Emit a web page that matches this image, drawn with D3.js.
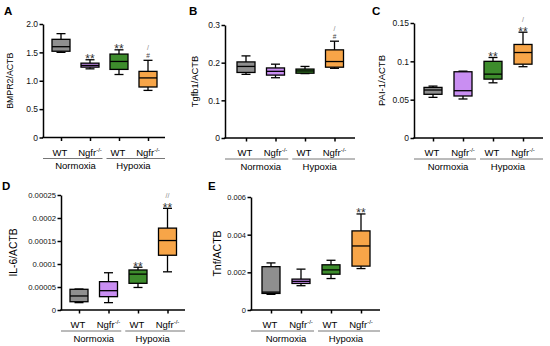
<!DOCTYPE html>
<html>
<head>
<meta charset="utf-8">
<script src="https://cdn.jsdelivr.net/npm/d3@7"></script>
<style>
  body { margin: 0; background: #fff; }
  svg { font-family: "Liberation Sans", Arial, sans-serif; }
</style>
</head>
<body>
<svg class="chart"></svg>
<script>
// genotype / condition labels
var genotypes = ["WT", "Ngfr", "WT", "Ngfr"];
var conditions = ["Normoxia", "Hypoxia"];
var boxColors = ["#8f8f8f", "#c98ef2", "#3d8c2c", "#f7a548"];

// box stats: [min, q1, median, q3, max]
var bmpr2 = [[1.50, 1.52, 1.60, 1.73, 1.83], [1.21, 1.24, 1.27, 1.31, 1.37], [1.11, 1.20, 1.34, 1.47, 1.545], [0.83, 0.89, 1.05, 1.165, 1.36]];
var tgfb1 = [[0.169, 0.174, 0.190, 0.202, 0.218], [0.160, 0.167, 0.177, 0.186, 0.196], [0.171, 0.172, 0.178, 0.183, 0.190], [0.185, 0.188, 0.203, 0.234, 0.257]];
var pai1 = [[0.053, 0.057, 0.0626, 0.066, 0.0677], [0.0509, 0.0548, 0.0617, 0.0864, 0.0872], [0.072, 0.0768, 0.0833, 0.100, 0.105], [0.093, 0.0963, 0.1115, 0.122, 0.138]];
var il6 = [[0.000016, 0.000018, 0.0000305, 0.000045, 0.0000456], [0.000016, 0.000029, 0.000042, 0.0000616, 0.000081], [0.000049, 0.000058, 0.000078, 0.000087, 0.000093], [0.000083, 0.000119, 0.000151, 0.000178, 0.000221]];
var tnf = [[0.00083, 0.00088, 0.00095, 0.0023, 0.0025], [0.00129, 0.00141, 0.00152, 0.00164, 0.00217], [0.00167, 0.0019, 0.00213, 0.0024, 0.00264], [0.0022, 0.00233, 0.0034, 0.0042, 0.0051]];

// significance marks (lower / upper line)
var bmpr2Marks = [["", ""], ["**", ""], ["**", ""], ["#", "/"]];
var tgfb1Marks = [["", ""], ["", ""], ["", ""], ["#", "/"]];
var pai1Marks = [["", ""], ["", ""], ["**", ""], ["**", "/"]];
var il6Marks = [["", ""], ["", ""], ["**", ""], ["**", "//"]];
var tnfMarks = [["", ""], ["", ""], ["", ""], ["**", ""]];

// y ticks
var bmpr2Ticks = [0, 0.5, 1.0, 1.5, 2.0], bmpr2TickLabels = ["0", "0.5", "1.0", "1.5", "2.0"];
var tgfb1Ticks = [0, 0.1, 0.2, 0.3], tgfb1TickLabels = ["0", "0.1", "0.2", "0.3"];
var pai1Ticks = [0, 0.05, 0.1, 0.15], pai1TickLabels = ["0", "0.05", "0.1", "0.15"];
var il6Ticks = [0, 0.00005, 0.0001, 0.00015, 0.0002, 0.00025], il6TickLabels = ["0", "0.00005", "0.0001", "0.00015", "0.0002", "0.00025"];
var tnfTicks = [0, 0.002, 0.004, 0.006], tnfTickLabels = ["0", "0.002", "0.004", "0.006"];

var svg = d3.select(".chart")
    .attr("width", 550)
    .attr("height", 346);

function drawPanel(p) {
  var g = svg.append("g");

  var yScale = d3.scaleLinear().domain([0, p.ticks[p.ticks.length - 1]]).range([p.y0, p.yTop]);
  var xScale = d3.scalePoint().domain([0, 1, 2, 3]).range([p.x0 + p.first, p.x0 + p.first + 3 * p.step]);

  // panel letter
  g.append("text")
      .attr("x", p.lx).attr("y", p.ly)
      .style("font-weight", "bold").style("font-size", "11.5px")
      .text(p.letter);

  // y axis
  var yAxis = d3.axisLeft(yScale)
      .tickValues(p.ticks)
      .tickFormat(function(d, i) { return p.tickLabels[i]; })
      .tickSize(3.5).tickSizeOuter(0);
  var ya = g.append("g")
      .attr("transform", "translate(" + p.x0 + ",0)")
      .call(yAxis);
  ya.selectAll("path, line").attr("stroke", "#000").attr("stroke-width", 1.5);
  ya.selectAll("text").style("font-size", p.tickFont + "px").attr("fill", "#111").attr("x", -5);

  // x axis
  var xAxis = d3.axisBottom(xScale).tickSize(3.5).tickFormat("");
  var xa = g.append("g")
      .attr("transform", "translate(0," + p.y0 + ")")
      .call(xAxis);
  xa.select(".domain").remove();
  xa.selectAll("line").attr("stroke", "#000").attr("stroke-width", 1.5);
  g.append("line")
      .attr("x1", p.x0 - 0.75).attr("x2", p.xEnd)
      .attr("y1", p.y0).attr("y2", p.y0)
      .attr("stroke", "#000").attr("stroke-width", 1.5);

  // y title
  g.append("text")
      .attr("transform", "translate(" + p.tx + "," + ((p.y0 + p.yTop) / 2) + ") rotate(-90)")
      .attr("text-anchor", "middle")
      .attr("dy", "0.35em")
      .style("font-size", p.titleFont + "px")
      .text(p.title);

  // boxes
  var bw = 18, cw = 9;
  p.data.forEach(function(d, i) {
    var cx = xScale(i);
    var bg = g.append("g").attr("stroke", "#000").attr("stroke-width", 1.3);
    bg.append("line").attr("x1", cx).attr("x2", cx).attr("y1", yScale(d[4])).attr("y2", yScale(d[3]));
    bg.append("line").attr("x1", cx).attr("x2", cx).attr("y1", yScale(d[1])).attr("y2", yScale(d[0]));
    bg.append("line").attr("x1", cx - cw / 2).attr("x2", cx + cw / 2).attr("y1", yScale(d[4])).attr("y2", yScale(d[4]));
    bg.append("line").attr("x1", cx - cw / 2).attr("x2", cx + cw / 2).attr("y1", yScale(d[0])).attr("y2", yScale(d[0]));
    bg.append("rect")
        .attr("x", cx - bw / 2).attr("width", bw)
        .attr("y", yScale(d[3])).attr("height", Math.max(1, yScale(d[1]) - yScale(d[3])))
        .attr("fill", boxColors[i]);
    bg.append("line").attr("x1", cx - bw / 2).attr("x2", cx + bw / 2).attr("y1", yScale(d[2])).attr("y2", yScale(d[2]));

    // marks
    var m = p.marks[i];
    var top = yScale(d[4]);
    if (m[0] === "**") g.append("text")
        .attr("x", cx).attr("y", top + 3.5)
        .attr("text-anchor", "middle")
        .style("font-size", "12px").attr("fill", "#333")
        .text(m[0]);
    if (m[0] === "#") g.append("text")
        .attr("x", cx).attr("y", top - 2.5)
        .attr("text-anchor", "middle")
        .style("font-size", "6.5px").attr("fill", "#444")
        .text(m[0]);
    if (m[1]) g.append("text")
        .attr("x", cx).attr("y", top - (m[0] === "#" ? 10 : 10.5))
        .attr("text-anchor", "middle")
        .style("font-size", "7px").attr("fill", "#888")
        .text(m[1]);
  });

  // genotype labels
  genotypes.forEach(function(lab, i) {
    var t = g.append("text")
        .attr("x", xScale(i) + (lab === "WT" ? -1 : 0)).attr("y", p.y0 + 18)
        .attr("text-anchor", "middle")
        .style("font-size", "9.5px");
    t.append("tspan").text(lab);
    if (lab === "Ngfr") t.append("tspan").attr("dy", -4).style("font-size", "6px").text("-/-");
  });

  // condition labels and group lines
  var mid = (xScale(1) + xScale(2)) / 2;
  var spans = [[p.x0, mid - 2], [mid + 2, p.xEnd]];
  conditions.forEach(function(c, k) {
    g.append("line")
        .attr("x1", spans[k][0]).attr("x2", spans[k][1])
        .attr("y1", p.y0 + 21).attr("y2", p.y0 + 21)
        .attr("stroke", "#666").attr("stroke-width", 0.9);
    g.append("text")
        .attr("x", (xScale(2 * k) + xScale(2 * k + 1)) / 2).attr("y", p.y0 + 31.5)
        .attr("text-anchor", "middle")
        .style("font-size", "9.5px")
        .text(c);
  });
}

drawPanel({letter: "A", lx: 4, ly: 15, x0: 43, xEnd: 165, first: 18, step: 29, yTop: 24, y0: 137.5, tx: 10, title: "BMPR2/ACTB", titleFont: 8.8, data: bmpr2, marks: bmpr2Marks, ticks: bmpr2Ticks, tickLabels: bmpr2TickLabels, tickFont: 8.5});
drawPanel({letter: "B", lx: 189, ly: 15, x0: 225, xEnd: 355, first: 21, step: 29.5, yTop: 25, y0: 138, tx: 195, title: "Tgfb1/ACTB", titleFont: 9.4, data: tgfb1, marks: tgfb1Marks, ticks: tgfb1Ticks, tickLabels: tgfb1TickLabels, tickFont: 8.5});
drawPanel({letter: "C", lx: 372, ly: 15, x0: 414, xEnd: 543, first: 19, step: 30, yTop: 23, y0: 138, tx: 382, title: "PAI-1/ACTB", titleFont: 9.5, data: pai1, marks: pai1Marks, ticks: pai1Ticks, tickLabels: pai1TickLabels, tickFont: 8.5});
drawPanel({letter: "D", lx: 2, ly: 190, x0: 61, xEnd: 185, first: 18, step: 29.5, yTop: 195, y0: 310, tx: 13, title: "IL-6/ACTB", titleFont: 10.3, data: il6, marks: il6Marks, ticks: il6Ticks, tickLabels: il6TickLabels, tickFont: 7.7});
drawPanel({letter: "E", lx: 208, ly: 190, x0: 251, xEnd: 380, first: 20, step: 30, yTop: 197, y0: 310, tx: 217, title: "Tnf/ACTB", titleFont: 10.5, data: tnf, marks: tnfMarks, ticks: tnfTicks, tickLabels: tnfTickLabels, tickFont: 7.5});
</script>
</body>
</html>
